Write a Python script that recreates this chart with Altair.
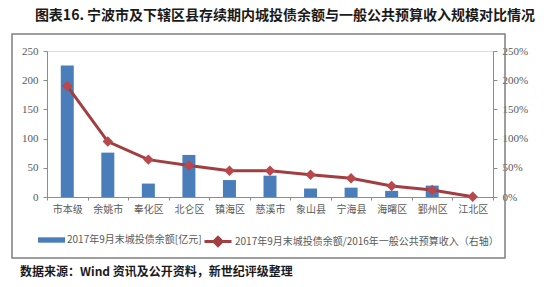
import altair as alt
import pandas as pd

categories = ["市本级", "余姚市", "奉化区", "北仑区", "镇海区", "慈溪市",
              "象山县", "宁海县", "海曙区", "鄞州区", "江北区"]
debt = [225, 76, 23, 72, 29, 36.5, 14.5, 16, 10.5, 19.5, 0]
ratio = [1.90, 0.95, 0.64, 0.54, 0.45, 0.45, 0.38, 0.32, 0.19, 0.12, 0.005]
left_ticks = [0, 50, 100, 150, 200, 250]
right_ticks = [0, 0.5, 1.0, 1.5, 2.0, 2.5]

bar_name = "2017年9月末城投债余额[亿元]"
line_name = "2017年9月末城投债余额/2016年一般公共预算收入（右轴）"
title_text = "图表16. 宁波市及下辖区县存续期内城投债余额与一般公共预算收入规模对比情况"
source_text = "数据来源：Wind 资讯及公开资料，新世纪评级整理"

BLUE = "#4A7EBB"
LINE_RED = "#A03E41"
PT_RED = "#B9474B"
GREY = "#595959"
AX = "#8C8C8C"
CJK = "Noto Sans CJK SC"

df = pd.DataFrame({"cat": categories, "debt": debt, "ratio": ratio,
                   "s1": bar_name, "s2": line_name})

xenc = alt.X("cat:N", sort=categories, title=None,
             scale=alt.Scale(paddingInner=0, paddingOuter=0),
             axis=alt.Axis(labelAngle=0, labelFont=CJK, labelFontSize=10,
                           labelColor=GREY, domainColor=AX, tickColor=AX,
                           tickSize=3, labelPadding=4, tickBand="extent"))

bars = alt.Chart(df).mark_bar(size=13).encode(
    x=xenc,
    y=alt.Y("debt:Q", title=None,
            scale=alt.Scale(domain=[0, 250], nice=False),
            axis=alt.Axis(orient="left", values=left_ticks, grid=False,
                          labelFont="Liberation Serif", labelFontSize=11,
                          labelColor=GREY, domainColor=AX, tickColor=AX,
                          tickSize=4, labelPadding=5, labelOverlap=False,
                          labelFlush=False)),
    fill=alt.Fill("s1:N", scale=alt.Scale(domain=[bar_name], range=[BLUE]),
                  legend=alt.Legend(orient="none", legendX=-9, legendY=175.5,
                                    title=None, padding=0,
                                    symbolType="M-1,-0.2L1,-0.2L1,0.2L-1,0.2Z",
                                    symbolSize=729, symbolStrokeWidth=0,
                                    labelFont=CJK, labelFontSize=10,
                                    labelColor=GREY, labelOffset=2,
                                    labelLimit=400)),
)

yline = alt.Y("ratio:Q", title=None,
              scale=alt.Scale(domain=[0, 2.5], nice=False),
              axis=alt.Axis(orient="right", values=right_ticks, format=".0%",
                            grid=False, labelFont="Liberation Serif",
                            labelFontSize=11, labelColor=GREY,
                            domainColor=AX, tickColor=AX, tickSize=4,
                            labelPadding=5, labelOverlap=False,
                            labelFlush=False))

line = alt.Chart(df).mark_line(strokeWidth=3).encode(
    x=alt.X("cat:N", sort=categories),
    y=yline,
    stroke=alt.Stroke("s2:N", scale=alt.Scale(domain=[line_name], range=[LINE_RED]),
                      legend=alt.Legend(orient="none", legendX=156, legendY=175.5,
                                        title=None, padding=0,
                                        symbolType="M-1,0L1,0M-0.3,0L0,-0.3L0.3,0L0,0.3Z",
                                        symbolSize=729, symbolStrokeWidth=3,
                                        symbolFillColor=PT_RED,
                                        labelFont=CJK, labelFontSize=10,
                                        labelColor=GREY, labelOffset=2,
                                        labelLimit=400)),
)

points = alt.Chart(df).mark_point(shape="diamond", filled=True, size=110,
                                  color=PT_RED, opacity=1).encode(
    x=alt.X("cat:N", sort=categories),
    y=yline,
)

right_layer = alt.layer(line, points)

one = pd.DataFrame({"t": [title_text], "s": [source_text]})

frame = alt.Chart(one).mark_rect(fill=None, stroke="#7F7F7F", strokeWidth=1.5).encode(
    x=alt.value(-35), x2=alt.value(458), y=alt.value(-17), y2=alt.value(207))

title = alt.Chart(one).mark_text(font=CJK, fontSize=14, fontWeight="bold",
                                 color="#1a1a1a", align="center",
                                 baseline="middle").encode(
    text="t:N", x=alt.value(238), y=alt.value(-35))

source = alt.Chart(one).mark_text(font=CJK, fontSize=12, fontWeight="bold",
                                  color="#1a1a1a", align="left",
                                  baseline="middle").encode(
    text="s:N", x=alt.value(-27), y=alt.value(221))

chart = alt.layer(bars, right_layer).resolve_scale(y="independent")
chart = alt.layer(frame, chart, title, source).properties(
    width=446, height=146,
    autosize=alt.AutoSizeParams(type="none"),
    padding={"left": 47, "top": 51, "right": 66, "bottom": 90},
).configure_view(stroke=None).configure(background="white")

chart.save("out.html", embed_options={"renderer": "svg", "actions": False})
